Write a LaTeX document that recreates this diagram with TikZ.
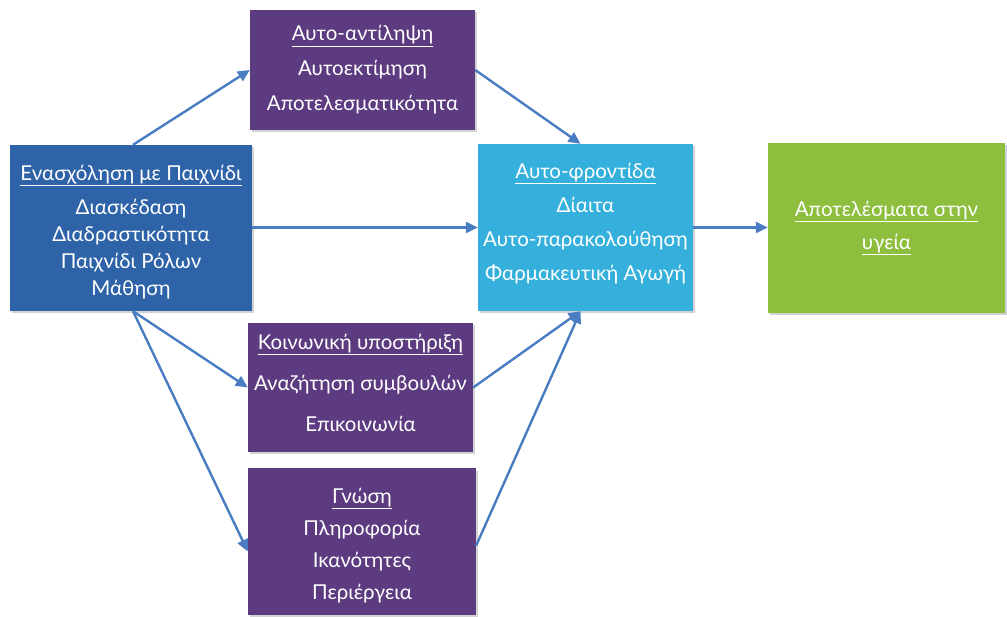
\documentclass[tikz,border=0pt]{standalone}
\usepackage{fontspec}
\setmainfont{Lato}
\usetikzlibrary{arrows.meta,shadows}
\definecolor{playblue}{HTML}{2E63A8}
\definecolor{factorpurple}{HTML}{5C3B80}
\definecolor{carecyan}{HTML}{35B0DC}
\definecolor{healthgreen}{HTML}{8DBE3E}
\definecolor{linkblue}{HTML}{4A7CC2}
\begin{document}
\begin{tikzpicture}[x=1pt,y=-1pt,
  box/.style={inner sep=0pt,
    drop shadow={opacity=0.35, shadow xshift=2pt, shadow yshift=-2.5pt}},
  boxtext/.style={text=white, align=center, inner sep=0pt},
  link/.style={draw=linkblue, line width=2.4pt,
    -{Triangle[length=12pt,width=11pt]}}]
\useasboundingbox (0,0) rectangle (1007,617);

% coloured boxes
\node[box, fill=factorpurple, minimum width=225pt, minimum height=120pt] (self) at (362.5,70) {};
\node[box, fill=playblue, minimum width=242pt, minimum height=166pt] (play) at (131,228) {};
\node[box, fill=carecyan, minimum width=215pt, minimum height=167pt] (care) at (585.5,227.5) {};
\node[box, fill=healthgreen, minimum width=237pt, minimum height=170pt] (health) at (886.5,228) {};
\node[box, fill=factorpurple, minimum width=225pt, minimum height=129pt] (social) at (360.5,387.5) {};
\node[box, fill=factorpurple, minimum width=228pt, minimum height=147pt] (know) at (362,541.5) {};

% box contents
\node[boxtext, font=\fontsize{20.5}{35}\selectfont] (selftext) at (self.center)
  {\underline{Αυτο-αντίληψη}\\Αυτοεκτίμηση\\Αποτελεσματικότητα};
\node[boxtext, font=\fontsize{20.5}{27}\selectfont] (playtext) at ([yshift=-4pt]play.center)
  {\underline{Ενασχόληση με Παιχνίδι}\\[7pt]Διασκέδαση\\Διαδραστικότητα\\Παιχνίδι Ρόλων\\Μάθηση};
\node[boxtext, font=\fontsize{20.5}{34}\selectfont] (caretext) at ([yshift=4pt]care.center)
  {\underline{Αυτο-φροντίδα}\\Δίαιτα\\Αυτο-παρακολούθηση\\Φαρμακευτική Αγωγή};
\node[boxtext, font=\fontsize{20.5}{33}\selectfont] (healthtext) at (health.center)
  {\underline{Αποτελέσματα στην}\\\underline{υγεία}};
\node[boxtext, font=\fontsize{20.5}{41}\selectfont] (socialtext) at ([yshift=5pt]social.center)
  {\underline{Κοινωνική υποστήριξη}\\Αναζήτηση συμβουλών\\Επικοινωνία};
\node[boxtext, font=\fontsize{20.5}{32}\selectfont] (knowtext) at ([yshift=-4pt]know.center)
  {\underline{Γνώση}\\Πληροφορία\\Ικανότητες\\Περιέργεια};

% connectors
\coordinate (playtop) at ([xshift=2pt]play.north);
\coordinate (playbot) at ([xshift=2pt]play.south);
\draw[link] (playtop) -- (self.west);
\draw[link] (self.east) -- ([xshift=-5pt]care.north);
\draw[link] (play.east |- care.west) -- (care.west);
\draw[link] (care.east) -- (health.west |- care.east);
\draw[link] (playbot) -- (social.west);
\draw[link] (playbot) -- ([yshift=-10pt]know.west);
\draw[link] (social.east) -- ([xshift=-5pt]care.south);
\draw[link] ([yshift=-4pt]know.east) -- ([xshift=-5pt]care.south);
\end{tikzpicture}
\end{document}
